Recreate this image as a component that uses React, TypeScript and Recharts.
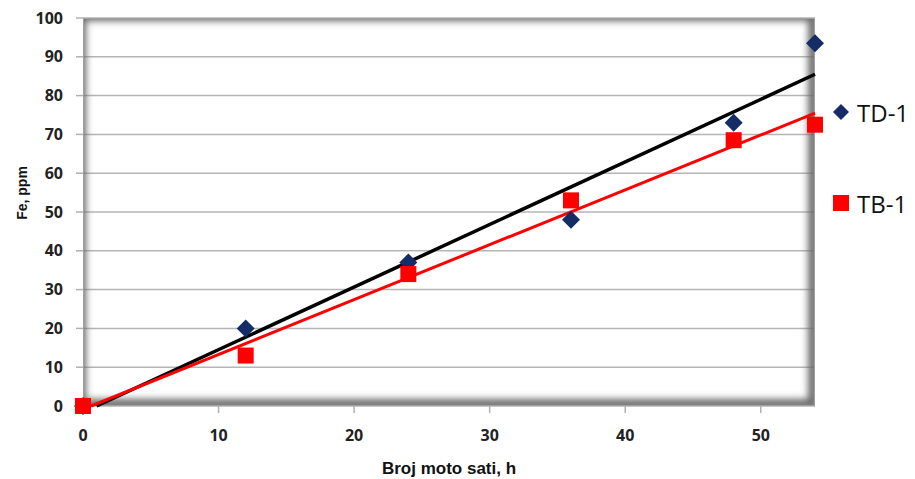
import {
  ComposedChart,
  CartesianGrid,
  Line,
  ReferenceArea,
  Scatter,
  XAxis,
  YAxis,
} from "recharts";

const hoursTicks = [0, 10, 20, 30, 40, 50];
const feTicks = [0, 10, 20, 30, 40, 50, 60, 70, 80, 90, 100];

const td1 = [
  { h: 0, fe: 0 },
  { h: 12, fe: 20 },
  { h: 24, fe: 37 },
  { h: 36, fe: 48 },
  { h: 48, fe: 73 },
  { h: 54, fe: 93.5 },
];

const tb1 = [
  { h: 0, fe: 0 },
  { h: 12, fe: 13 },
  { h: 24, fe: 34 },
  { h: 36, fe: 53 },
  { h: 48, fe: 68.5 },
  { h: 54, fe: 72.5 },
];

// trend lines as drawn (start where they meet the x axis)
const td1Trend = [
  { h: 1.0, fe: 0 },
  { h: 54, fe: 85.5 },
];
const tb1Trend = [
  { h: 0.6, fe: 0 },
  { h: 54, fe: 75.5 },
];

const seriesNames = ["TD-1", "TB-1"];

const NAVY = "#142d66";
const RED = "#ff0000";
const tickFont = { fontFamily: "'Open Sans', sans-serif", fontWeight: 700, fontSize: 16, fill: "#222" };
const titleFont = "'Liberation Sans', Arial, sans-serif";

function Diamond({ cx, cy }: any) {
  const r = 9;
  return (
    <polygon
      points={`${cx},${cy - r} ${cx + r},${cy} ${cx},${cy + r} ${cx - r},${cy}`}
      fill={NAVY}
    />
  );
}

function Square({ cx, cy }: any) {
  const s = 16;
  return <rect x={cx - s / 2} y={cy - s / 2} width={s} height={s} fill={RED} />;
}

// soft inner shadow along the plot edges, darker at right and bottom
function PlotFrame({ x, y, width, height }: any) {
  return (
    <g>
      <defs>
        <clipPath id="plotClip">
          <rect x={x} y={y} width={width} height={height} />
        </clipPath>
        <filter id="edgeBlur" x="-5%" y="-5%" width="110%" height="110%">
          <feGaussianBlur stdDeviation="3.5" />
        </filter>
      </defs>
      <g clipPath="url(#plotClip)">
        <rect
          x={x - 2}
          y={y - 2}
          width={width}
          height={height}
          fill="none"
          stroke="#6a6a6a"
          strokeWidth={10}
          filter="url(#edgeBlur)"
        />
        <rect x={x} y={y} width={width} height={height} fill="none" stroke="#a0a0a0" strokeWidth={2} />
      </g>
    </g>
  );
}

function YTitle({ viewBox }: any) {
  const cx = viewBox.x + 22;
  const cy = viewBox.y + viewBox.height / 2 - 19;
  return (
    <text
      x={cx}
      y={cy}
      transform={`rotate(-90 ${cx} ${cy})`}
      textAnchor="middle"
      dominantBaseline="central"
      fontFamily={titleFont}
      fontWeight={700}
      fontSize={14}
      fill="#111"
    >
      Fe, ppm
    </text>
  );
}

function LegendBox() {
  return (
    <div
      style={{
        position: "absolute",
        left: 831,
        top: 95,
        fontFamily: "'Open Sans', sans-serif",
        fontSize: 24,
        color: "#111",
      }}
    >
      {seriesNames.map((name) => (
        <div key={name} style={{ display: "flex", alignItems: "center", height: 34, marginBottom: 57 }}>
          <svg width={20} height={20} style={{ marginRight: 6 }}>
            {name === "TD-1" ? (
              <polygon points="10,2 18,10 10,18 2,10" fill={NAVY} />
            ) : (
              <rect x={2} y={2} width={16} height={16} fill={RED} />
            )}
          </svg>
          <span>{name}</span>
        </div>
      ))}
    </div>
  );
}

export default function App() {
  return (
    <div style={{ position: "absolute", left: 0, top: 0, width: 915, height: 479, background: "#fff" }}>
      <ComposedChart width={915} height={479} margin={{ top: 18, right: 100, bottom: 0, left: 0 }}>
        <CartesianGrid vertical={false} stroke="#b5b5b5" strokeWidth={1.5} fill="#fff" />
        <ReferenceArea x1={0} x2={54} y1={0} y2={100} shape={<PlotFrame />} />
        <XAxis
          type="number"
          dataKey="h"
          domain={[0, 54]}
          ticks={hoursTicks}
          axisLine={false}
          tickSize={7}
          tickMargin={17}
          tickLine={{ stroke: "#b0b0b0", strokeWidth: 1.5 }}
          tick={tickFont}
          height={73}
          label={{
            value: "Broj moto sati, h",
            position: "insideBottom",
            offset: 5,
            style: { fontFamily: titleFont, fontWeight: 700, fontSize: 17, fill: "#111" },
          }}
        />
        <YAxis
          type="number"
          dataKey="fe"
          domain={[0, 100]}
          ticks={feTicks}
          axisLine={false}
          tickSize={7}
          tickMargin={13}
          tickLine={{ stroke: "#b0b0b0", strokeWidth: 1.5 }}
          tick={tickFont}
          width={83}
          label={<YTitle />}
        />
        <Scatter name="TD-1" data={td1} dataKey="fe" fill={NAVY} shape={<Diamond />} isAnimationActive={false} />
        <Scatter name="TB-1" data={tb1} dataKey="fe" fill={RED} shape={<Square />} isAnimationActive={false} />
        <Line data={td1Trend} dataKey="fe" stroke="#000" strokeWidth={3.5} dot={false} isAnimationActive={false} />
        <Line data={tb1Trend} dataKey="fe" stroke={RED} strokeWidth={3} dot={false} isAnimationActive={false} />
      </ComposedChart>
      <LegendBox />
    </div>
  );
}
